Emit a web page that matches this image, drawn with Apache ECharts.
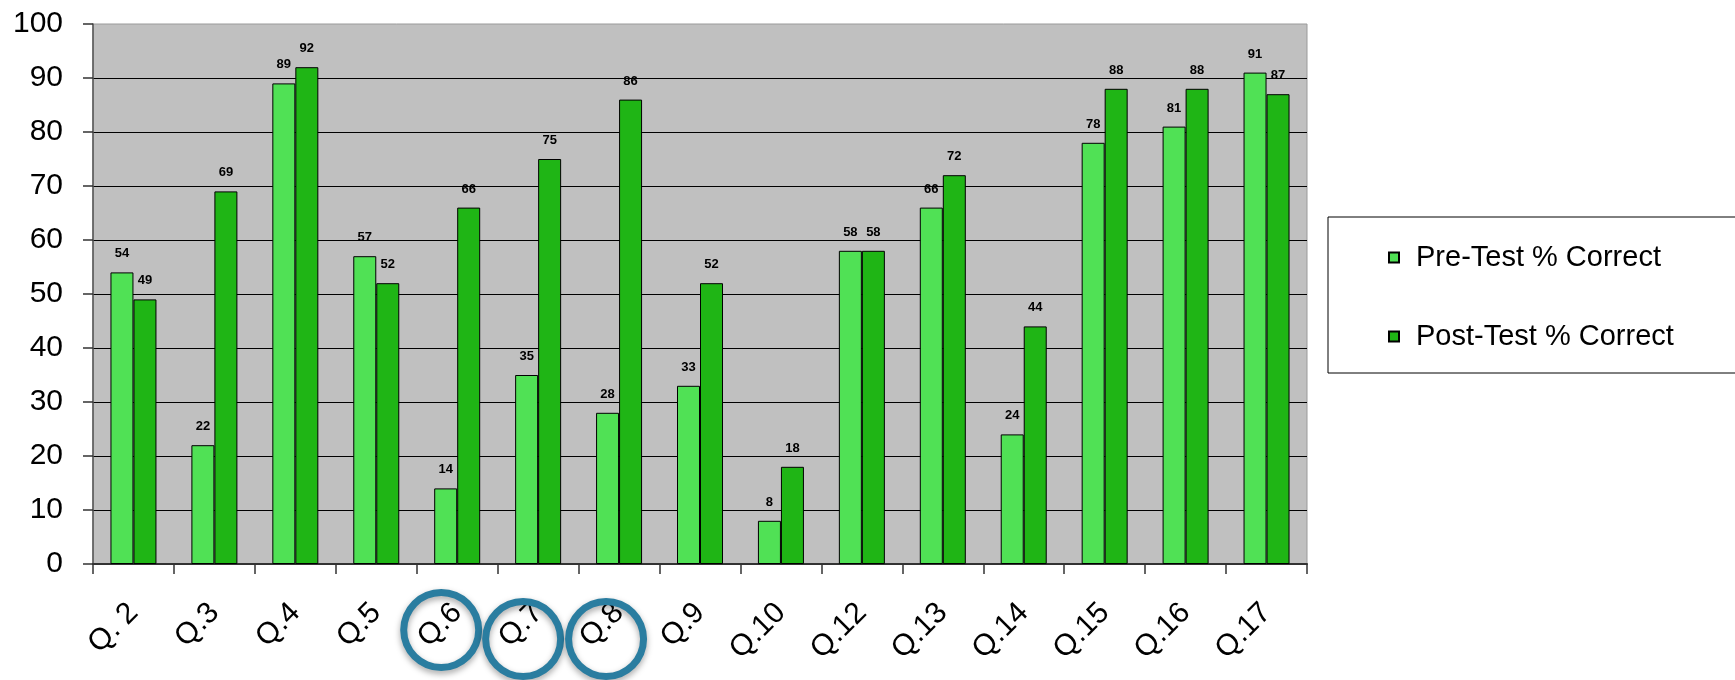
<!DOCTYPE html>
<html>
<head>
<meta charset="utf-8">
<title>Pre-Test / Post-Test % Correct</title>
<script src="https://cdn.jsdelivr.net/npm/echarts@6/dist/echarts.min.js"></script>
<style>
html, body { margin: 0; padding: 0; background: #fff; }
#myBarChart { width: 1735px; height: 680px; }
</style>
</head>
<body>
<div id="myBarChart"></div>
<script>
// data -------------
var questions = ['Q. 2', 'Q.3', 'Q.4', 'Q.5', 'Q.6', 'Q.7', 'Q.8', 'Q.9', 'Q.10', 'Q.12', 'Q.13', 'Q.14', 'Q.15', 'Q.16', 'Q.17'];
var preTest = [54, 22, 89, 57, 14, 35, 28, 33, 8, 58, 66, 24, 78, 81, 91];
var postTest = [49, 69, 92, 52, 66, 75, 86, 52, 18, 58, 72, 44, 88, 88, 87];
var seriesNames = ['Pre-Test % Correct', 'Post-Test % Correct'];
// questions circled below the axis
var circled = ['Q.6', 'Q.7', 'Q.8'];

var myChart = echarts.init(document.getElementById('myBarChart'));

var barLabel = {
    show: true,
    position: 'top',
    distance: 12,
    fontSize: 13,
    fontWeight: 'bold',
    fontFamily: 'Liberation Sans',
    color: '#000'
};

var option = {
    animation: false,
    legend: {
        orient: 'vertical',
        left: 1328,
        top: 217,
        icon: 'rect',
        itemWidth: 10,
        itemHeight: 10,
        itemGap: 50,
        padding: [26, 500, 22, 60],
        borderColor: '#000',
        borderWidth: 1,
        backgroundColor: '#fff',
        selectedMode: false,
        textStyle: {fontSize: 29, fontFamily: 'Liberation Sans', color: '#000', padding: [0, 0, 0, 12]},
        data: seriesNames
    },
    grid: {
        left: 93,
        right: 428,
        top: 24,
        bottom: 116,
        show: true,
        backgroundColor: '#c0c0c0',
        borderColor: '#9a9a9a',
        borderWidth: 1
    },
    xAxis: {
        type: 'category',
        data: questions,
        axisLine: {lineStyle: {color: '#333', width: 2}},
        axisTick: {show: true, length: 10, lineStyle: {color: '#333', width: 1.5}},
        axisLabel: {
            rotate: 45,
            margin: 44,
            fontSize: 30,
            fontFamily: 'Liberation Sans',
            color: '#000'
        }
    },
    yAxis: {
        type: 'value',
        min: 0,
        max: 100,
        interval: 10,
        axisLine: {show: true, lineStyle: {color: '#555', width: 1.5}},
        axisTick: {show: true, length: 10, lineStyle: {color: '#333', width: 1.5}},
        axisLabel: {margin: 30, fontSize: 30, fontFamily: 'Liberation Sans', color: '#000'},
        splitLine: {show: true, showMaxLine: false, lineStyle: {color: '#000', width: 1.2}}
    },
    series: [
        {
            name: seriesNames[0],
            type: 'bar',
            data: preTest,
            barWidth: 23,
            barGap: '0%',
            itemStyle: {color: '#50e155', borderColor: '#000', borderWidth: 1},
            label: barLabel
        },
        {
            name: seriesNames[1],
            type: 'bar',
            data: postTest,
            barWidth: 23,
            itemStyle: {color: '#1fb515', borderColor: '#000', borderWidth: 1},
            label: barLabel
        }
    ]
};

myChart.setOption(option);

// blue rings drawn round the circled questions, placed from the axis
var ringShift = [[-16, 66], [-15, 75], [-13, 75]];
var axisY = myChart.convertToPixel({yAxisIndex: 0}, 0);
var rings = circled.map(function (q, i) {
    var cx = myChart.convertToPixel({xAxisIndex: 0}, q);
    return {
        type: 'ring',
        shape: {cx: cx + ringShift[i][0], cy: axisY + ringShift[i][1], r: 41, r0: 34},
        style: {
            fill: '#2a7da0',
            shadowBlur: 6,
            shadowColor: 'rgba(0,0,0,0.35)',
            shadowOffsetY: 3
        },
        z: 100
    };
});
myChart.setOption({graphic: rings});

window.onresize = function () {
    myChart.resize();
};
</script>
</body>
</html>
